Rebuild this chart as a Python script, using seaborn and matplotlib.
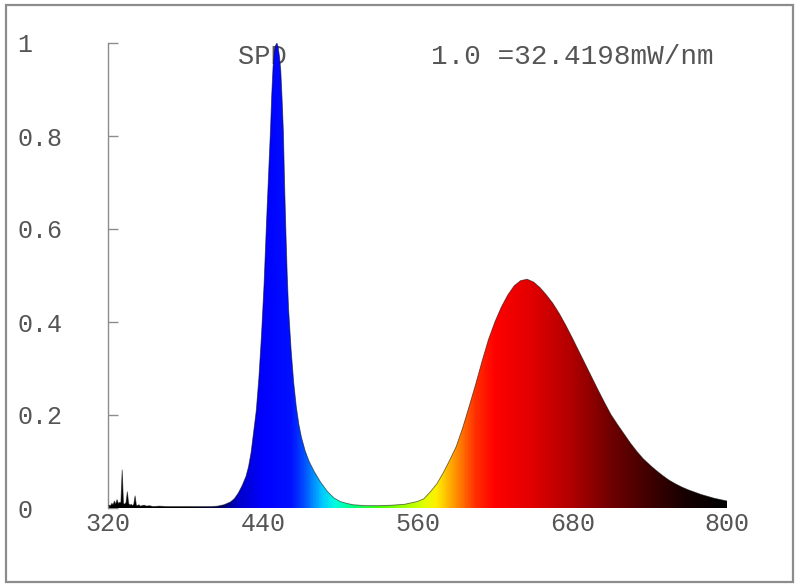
"""
Relative spectral power distribution (SPD) of a blue + red LED,
filled with the colour of each wavelength.
"""

import numpy as np
import matplotlib
matplotlib.use("Agg")
import matplotlib.pyplot as plt
from matplotlib.colors import LinearSegmentedColormap, Normalize
from matplotlib.patches import Rectangle
import seaborn as sns

# ── Data (wavelength in nm, relative power) ────────────────────────────────
wavelength = [
    320, 321, 322, 323, 324, 325, 326, 327, 328, 329, 330, 331, 332, 333,
    334, 335, 336, 337, 338, 339, 340, 341, 342, 343, 344, 345, 348, 350,
    352, 355, 360, 365, 370, 375, 380, 385, 390, 395, 400,
    405, 410, 415, 418, 421, 424, 427, 429, 431, 433, 435, 437, 439, 441,
    443, 445, 446, 447, 448, 449, 450, 451, 452, 453, 454, 455, 456, 457,
    458, 459, 460, 462, 464, 466, 468, 470, 473, 476, 480, 485, 490, 495,
    500, 505, 510, 520, 530, 540, 550, 555, 560,
    565, 570, 575, 580, 585, 590, 595, 600, 605, 610, 615, 620, 625, 630,
    635, 640, 645, 650, 655, 660, 665, 670, 675, 680, 685, 690, 695, 700,
    705, 710, 715, 720, 725, 730, 735, 740, 745, 750, 755, 760, 765, 770,
    775, 780, 785, 790, 795, 800,
]
spd = [
    0.004, 0.006, 0.005, 0.010, 0.007, 0.015, 0.008, 0.018, 0.010, 0.012,
    0.012, 0.082, 0.010, 0.008, 0.012, 0.035, 0.010, 0.006, 0.008, 0.005,
    0.008, 0.026, 0.006, 0.005, 0.007, 0.004, 0.006, 0.004, 0.005, 0.003,
    0.004, 0.003, 0.003, 0.003, 0.003, 0.003, 0.003, 0.003, 0.003,
    0.004, 0.007, 0.013, 0.020, 0.032, 0.048, 0.068, 0.089, 0.120, 0.165,
    0.210, 0.280, 0.370, 0.480, 0.620, 0.750, 0.813, 0.890, 0.950, 0.980,
    0.995, 1.000, 0.990, 0.970, 0.940, 0.880, 0.810, 0.690, 0.590, 0.500,
    0.430, 0.340, 0.270, 0.218, 0.180, 0.152, 0.122, 0.100, 0.078, 0.055,
    0.036, 0.022, 0.014, 0.010, 0.007, 0.005, 0.005, 0.006, 0.008, 0.011,
    0.014,
    0.020, 0.035, 0.052, 0.076, 0.103, 0.132, 0.172, 0.218, 0.265, 0.315,
    0.362, 0.400, 0.432, 0.458, 0.478, 0.489, 0.492, 0.486, 0.474, 0.458,
    0.440, 0.418, 0.393, 0.366, 0.338, 0.310, 0.282, 0.254, 0.227, 0.201,
    0.180, 0.160, 0.140, 0.122, 0.106, 0.093, 0.081, 0.070, 0.060, 0.052,
    0.045, 0.039, 0.034, 0.029, 0.025, 0.021, 0.018, 0.015,
]

x_ticks = [320, 440, 560, 680, 800]
y_ticks = [0, 0.2, 0.4, 0.6, 0.8, 1]
y_tick_labels = ["0", "0.2", "0.4", "0.6", "0.8", "1"]
label_spd = "SPD"
label_scale = "1.0 =32.4198mW/nm"

# ── Style ──────────────────────────────────────────────────────────────────
sns.set_style("white")
plt.rcParams["font.family"] = ["Liberation Mono", "DejaVu Sans Mono"]
TEXT_GREY = "#555555"
AXIS_GREY = "#8c8c8c"

# wavelength -> display colour (approximate visible spectrum)
spectrum_stops = [
    (380, "#000000"), (405, "#000050"), (420, "#0000c8"), (440, "#0000ff"),
    (462, "#0010ff"), (472, "#0050ff"), (486, "#00c8ff"), (496, "#00ffe0"),
    (510, "#00ff80"), (530, "#40ff00"), (550, "#a0ff00"), (565, "#e0ff00"),
    (575, "#ffee00"), (590, "#ff9000"), (605, "#ff3000"), (620, "#ff0000"),
    (650, "#e00000"), (680, "#b00000"), (710, "#700000"), (740, "#400000"),
    (770, "#150000"), (800, "#000000"),
]
lo, hi = 320, 800
spectrum = LinearSegmentedColormap.from_list(
    "spectrum",
    [(0.0, "#000000")] + [((w - lo) / (hi - lo), c) for w, c in spectrum_stops],
)

# ── Figure ─────────────────────────────────────────────────────────────────
fig = plt.figure(figsize=(8, 5.87), dpi=100)
fig.add_artist(Rectangle((6 / 800, 5 / 587), 787 / 800, 577 / 587,
                         transform=fig.transFigure, fill=False,
                         edgecolor=AXIS_GREY, lw=1.6))
ax = fig.add_axes([108 / 800, 79 / 587, 619 / 800, 465 / 587])

# colour gradient clipped to the area under the curve
grid = np.linspace(lo, hi, 961)
img = spectrum(Normalize(lo, hi)(grid))[np.newaxis, :, :]
im = ax.imshow(img, extent=[lo, hi, 0, 1], aspect="auto", origin="lower",
               interpolation="bilinear", zorder=1)
area = ax.fill_between(wavelength, spd, 0, facecolor="none", edgecolor="none")
im.set_clip_path(area.get_paths()[0], transform=ax.transData)

sns.lineplot(x=wavelength, y=spd, color="#101010", lw=0.6, alpha=0.6,
             ax=ax, zorder=3)

ax.set_xlim(lo, hi)
ax.set_ylim(0, 1)
ax.set_xticks(x_ticks)
ax.set_yticks(y_ticks, y_tick_labels)

sns.despine(ax=ax, bottom=True)
ax.spines["left"].set_color(AXIS_GREY)
ax.spines["left"].set_linewidth(1)
ax.tick_params(axis="y", left=True, direction="in", length=7, width=1,
               color=AXIS_GREY, pad=65.5, labelsize=18, labelcolor=TEXT_GREY)
ax.tick_params(axis="x", bottom=False, length=0, pad=3, labelsize=18,
               labelcolor=TEXT_GREY)
for lbl in ax.get_yticklabels():
    lbl.set_horizontalalignment("left")

ax.text(421, 0.97, label_spd, ha="left", va="center", fontsize=19.5,
        color=TEXT_GREY, zorder=0)
ax.text(570.5, 0.97, label_scale, ha="left", va="center", fontsize=20,
        color=TEXT_GREY)

plt.savefig("out.png", dpi=100)
plt.close()
